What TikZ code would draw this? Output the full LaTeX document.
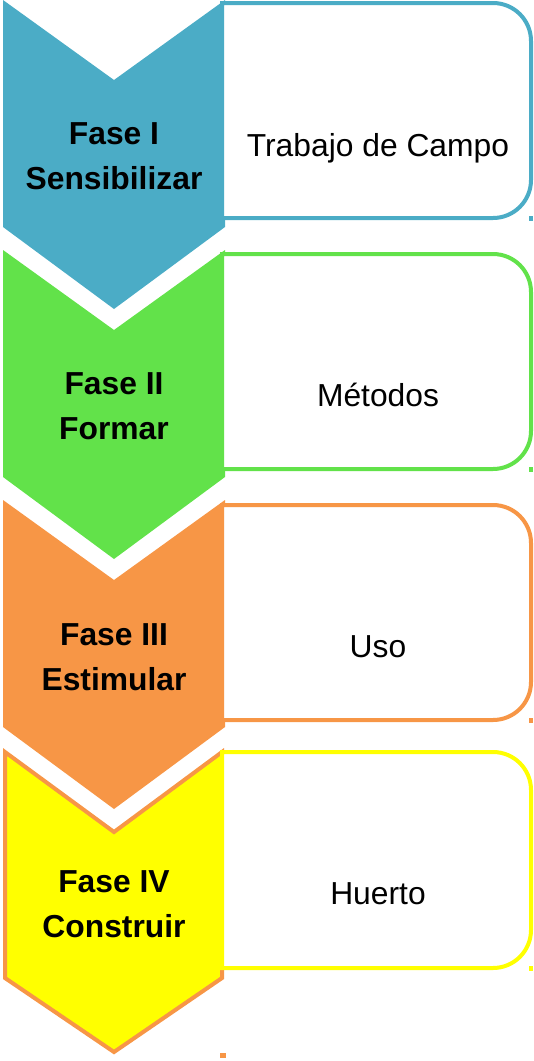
\documentclass[tikz,border=0pt]{standalone}
\usepackage{fontspec}
\setmainfont{Liberation Sans}
\definecolor{cblue}{HTML}{4BACC6}
\definecolor{cgreen}{HTML}{62E24A}
\definecolor{corange}{HTML}{F79646}
\definecolor{cyellow}{HTML}{FFFF00}
\tikzset{
  chevfill/.style={line join=miter},
  itembox/.style={line width=4pt, fill=white, draw=#1},
  phase/.style={font=\fontsize{31.8}{45}\selectfont\bfseries, align=center, inner sep=0pt},
  item/.style={font=\fontsize{31.8}{37}\selectfont, inner sep=0pt, anchor=base},
  speck/.style={fill=#1},
}
\begin{document}
\begin{tikzpicture}[x=1pt,y=-1pt]
\useasboundingbox (0,0) rectangle (534,1061);
% chevrons and boxes
\foreach \t/\b/\c in {0/3/cblue, 250/254/cgreen, 500/505/corange}{
  \fill[chevfill,\c] (3,\t) -- (114,\t+80) -- (225,\t) -- (225,\t+227) -- (114,\t+309) -- (3,\t+227) -- cycle;
  \draw[itembox=\c] (222,\b) -- (493,\b) .. controls (514,\b) and (531,\b+17) .. (531,\b+38)
     -- (531,\b+177) .. controls (531,\b+198) and (514,\b+215) .. (493,\b+215) -- (222,\b+215) -- cycle;
}
\filldraw[chevfill, fill=cyellow, draw=corange, line width=4pt]
  (5,752) -- (114,832) -- (222,752) -- (222,978) -- (114,1052) -- (5,978) -- cycle;
\draw[itembox=cyellow] (222,752) -- (493,752) .. controls (514,752) and (531,769) .. (531,790)
   -- (531,930) .. controls (531,951) and (514,968) .. (493,968) -- (222,968) -- cycle;
% specks
\fill[speck=cblue] (529,216) rectangle (533,221);
\fill[speck=cgreen] (529,467) rectangle (533,472);
\fill[speck=corange] (529,718) rectangle (533,723);
\fill[speck=cyellow] (529,966) rectangle (533,971);
\fill[speck=corange] (220,1053) rectangle (226,1058);
% labels
\node[phase] (p1) at (114,156) {Fase I\\Sensibilizar};
\node[phase] (p2) at (114,406) {Fase II\\Formar};
\node[phase] (p3) at (114,657) {Fase III\\Estimular};
\node[phase] (p4) at (114,904) {Fase IV\\Construir};
\node[item] (t1) at (378,156) {Trabajo de Campo};
\node[item] (t2) at (378,406) {Métodos};
\node[item] (t3) at (378,657) {Uso};
\node[item] (t4) at (378,904) {Huerto};
\end{tikzpicture}
\end{document}
